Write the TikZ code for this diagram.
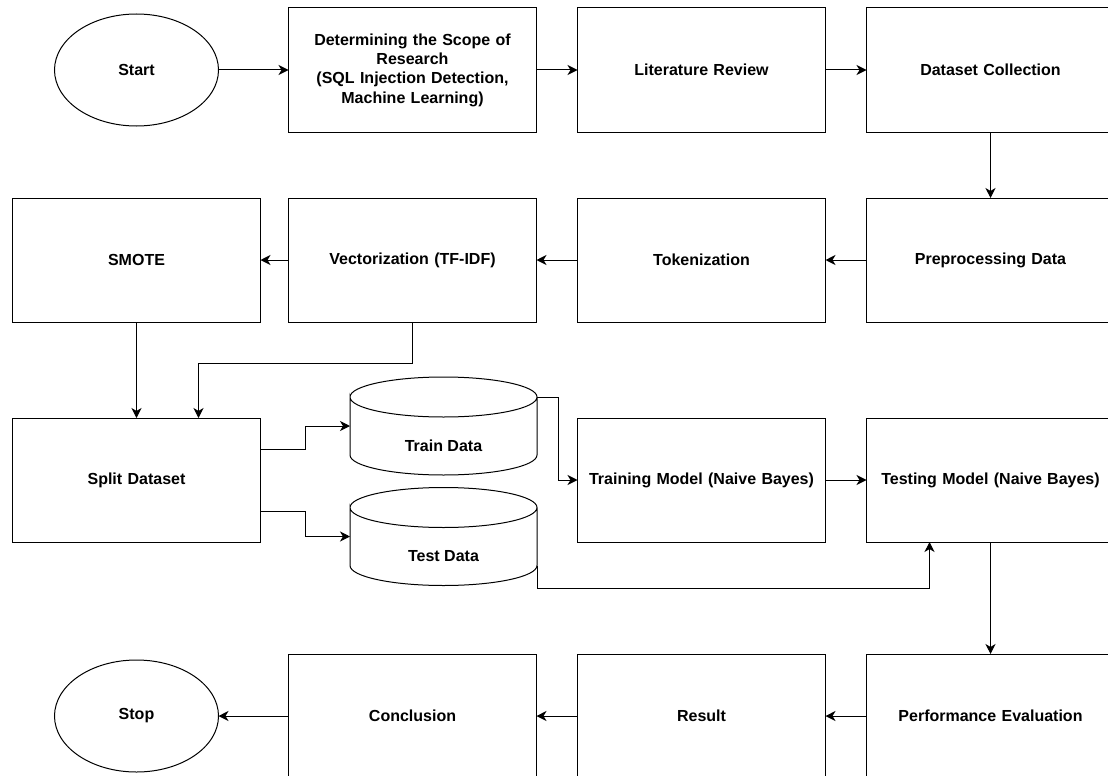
\documentclass[tikz,border=0pt]{standalone}
\usepackage{fontspec}
\setmainfont{Liberation Sans}
\usetikzlibrary{positioning}
\usetikzlibrary{shapes.geometric}
\usetikzlibrary{arrows.meta}
\tikzset{process/.style={
    rectangle, draw,
    minimum width=248pt,
    minimum height=124pt,
    inner sep=4pt, outer sep=0pt,
    text width=236pt, align=center
  },
  terminal/.style={
    ellipse, draw,
    minimum width=164pt,
    minimum height=112pt,
    inner sep=0pt, outer sep=0pt
  },
  datastore/.style={
    minimum width=187pt,
    minimum height=58pt,
    inner sep=0pt, outer sep=0pt,
    append after command={
      \pgfextra{
        \draw ([yshift=20pt]\tikzlastnode.north west)
          arc[start angle=180,end angle=-180,x radius=93.5pt,y radius=20pt]
          -- ([yshift=20pt]\tikzlastnode.south west)
          arc[start angle=180,end angle=360,x radius=93.5pt,y radius=20pt]
          -- ([yshift=20pt]\tikzlastnode.north east);
      }
    }
  },
}
\begin{document}
\begin{tikzpicture}[x=1pt,y=-1pt,line width=1pt,
    >={Stealth[length=10pt,width=10pt,inset=3pt]},
    font=\fontsize{16pt}{19.3pt}\selectfont\bfseries]
  \path[use as bounding box,fill=white] (0,0) rectangle (1108,776);
  \clip (0,0) rectangle (1108,776);

  % first row
  \node[terminal] (start) at (136.5,70) {Start};
  \node[process]  (scope)   [right=70pt of start] {Determining the Scope of\\Research\\(SQL Injection Detection,\\Machine Learning)};
  \node[process]  (lit)     [right=41pt of scope] {Literature Review};
  \node[process]  (collect) [right=41pt of lit]   {Dataset Collection};

  % second row, right to left
  \node[process]  (preproc) [below=66pt of collect] {Preprocessing Data};
  \node[process]  (token)   [left=41pt of preproc]  {Tokenization};
  \node[process]  (vector)  [left=41pt of token]    {Vectorization (TF-IDF)};
  \node[process]  (smote)   [left=28pt of vector]   {SMOTE};

  % third row
  \node[process]  (split)    [below=96pt of smote]   {Split Dataset};
  \node[datastore] (train) at (443.5,446)   {Train Data};
  \node[datastore] (test)  at (443.5,556.5) {Test Data};
  \node[process]  (training) [below=96pt of token]   {Training Model (Naive Bayes)};
  \node[process]  (testing)  [below=96pt of preproc] {Testing Model (Naive Bayes)};

  % last row
  \node[process]  (perf)   [below=112pt of testing] {Performance Evaluation};
  \node[process]  (result) [left=41pt of perf]      {Result};
  \node[process]  (concl)  [left=41pt of result]    {Conclusion};
  \node[terminal] (stop)   [left=70pt of concl]     {Stop};

  \begin{scope}[->]
    \path (start) edge (scope);
    \path (scope) edge (lit);
    \path (lit) edge (collect);
    \path (collect) edge (preproc);
    \path (preproc) edge (token);
    \path (token) edge (vector);
    \path (vector) edge (smote);
    \path (smote) edge (split);
    \path (training) edge (testing);
    \path (testing) edge (perf);
    \path (perf) edge (result);
    \path (result) edge (concl);
    \path (concl) edge (stop);

    \draw (vector.south) -- ++(0,41) -| ([xshift=62pt]split.north);
    \draw ([yshift=31pt]split.east) -- ++(45,0) |- ([yshift=20pt]train.west);
    \draw ([yshift=-31pt]split.east) -- ++(45,0) |- ([yshift=20pt]test.west);
    \draw ([yshift=20pt]train.north east) -- ++(21,0) |- (training.west);
    \draw ([yshift=20pt]test.south east) -- ++(0,23) -| ([xshift=-61pt]testing.south);
  \end{scope}
\end{tikzpicture}
\end{document}
